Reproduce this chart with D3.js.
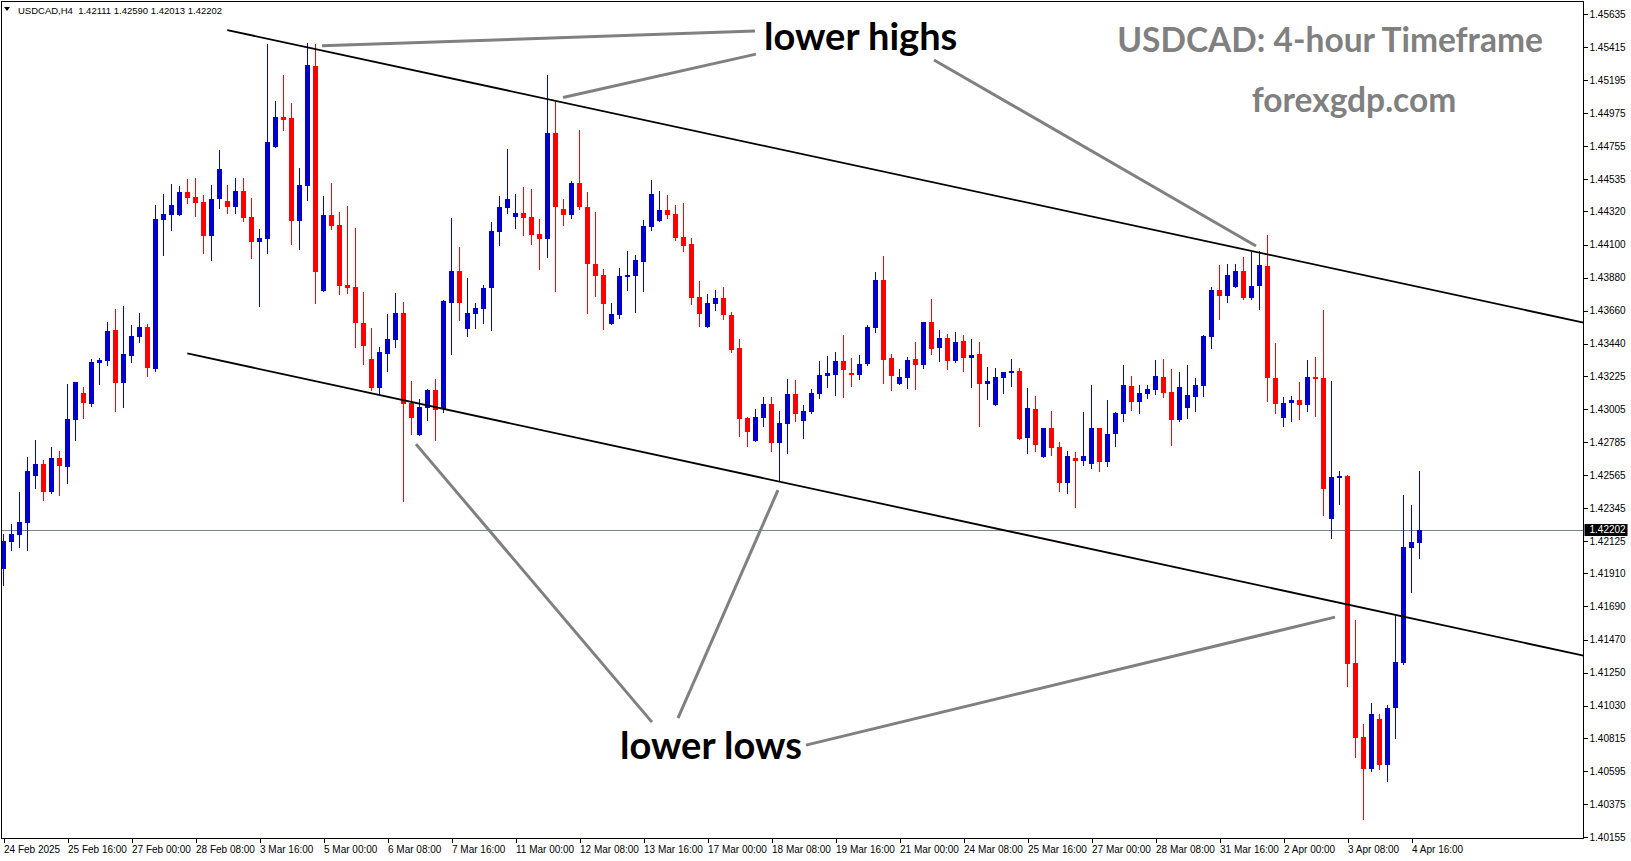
<!DOCTYPE html>
<html><head><meta charset="utf-8">
<script src="https://cdn.jsdelivr.net/npm/d3@7"></script>
<style>
html,body{margin:0;padding:0;background:#fff;overflow:hidden}
svg{display:block}
</style></head><body>
<svg id="chart" width="1631" height="861"></svg>
<script>
// ---------- DATA (USDCAD H4, bar index 0 = 24 Feb 2025 08:00) ----------
const open = [
1.41942,1.42121,1.42166,1.42247,1.42560,1.42638,1.42452,1.42678,1.42620,1.42933,
1.43111,1.43038,1.43313,1.43324,1.43531,1.43180,1.43360,1.43484,1.43551,1.43271,
1.44263,1.44297,1.44297,1.44450,1.44416,1.44383,1.44157,1.44403,1.44390,1.44350,
1.44456,1.44283,1.44117,1.44137,1.44749,1.44949,1.44942,1.44257,1.44489,1.45289,
1.43790,1.44297,1.44230,1.43830,1.43817,1.43577,1.43338,1.43144,1.43371,1.43464,
1.43644,1.43044,1.42831,1.43011,1.43131,1.43004,1.43713,1.43926,1.43539,1.43637,
1.43670,1.43810,1.44183,1.44343,1.44283,1.44310,1.44283,1.44170,1.44137,1.44842,
1.44336,1.44297,1.44509,1.44350,1.43971,1.43897,1.43571,1.43631,1.43884,1.43890,
1.43984,1.44217,1.44257,1.44330,1.44303,1.44150,1.44103,1.43751,1.43551,1.43704,
1.43744,1.43631,1.43411,1.42945,1.42791,1.42945,1.43038,1.42778,1.42905,1.43104,
1.42925,1.42984,1.43104,1.43224,1.43231,1.43324,1.43244,1.43231,1.43304,1.43544,
1.43864,1.43344,1.43171,1.43211,1.43338,1.43298,1.43584,1.43411,1.43477,1.43324,
1.43457,1.43344,1.43371,1.43171,1.43031,1.43211,1.43244,1.43258,1.42811,1.43004,
1.42685,1.42878,1.42751,1.42512,1.42678,1.42658,1.42638,1.42878,1.42651,1.42838,
1.42971,1.43158,1.43051,1.43104,1.43131,1.43217,1.43118,1.42931,1.43011,1.43084,
1.43158,1.43484,1.43797,1.43760,1.43819,1.43924,1.43747,1.43824,1.43957,1.43208,
1.42948,1.43048,1.43068,1.43032,1.43215,1.43210,1.42275,1.42547,1.42557,1.41314,
1.40820,1.40607,1.40942,1.40636,1.41014,1.41314,1.42082,1.42111];
const high = [
1.42172,1.42239,1.42452,1.42685,1.42798,1.42665,1.42751,1.42725,1.43171,1.43184,
1.43151,1.43338,1.43344,1.43584,1.43670,1.43690,1.43564,1.43644,1.43571,1.44363,
1.44436,1.44503,1.44489,1.44536,1.44543,1.44430,1.44496,1.44729,1.44496,1.44543,
1.44543,1.44410,1.44203,1.45435,1.45055,1.45229,1.45042,1.44609,1.45442,1.45435,
1.44423,1.44509,1.44316,1.44356,1.44210,1.43784,1.43544,1.43418,1.43637,1.43777,
1.43717,1.43191,1.43071,1.43137,1.43204,1.43731,1.44277,1.44083,1.43877,1.43711,
1.43830,1.44250,1.44423,1.44736,1.44436,1.44483,1.44470,1.44270,1.45229,1.45062,
1.44403,1.44523,1.44862,1.44450,1.44316,1.43937,1.43711,1.43944,1.44057,1.44030,
1.44263,1.44529,1.44456,1.44430,1.44363,1.44376,1.44143,1.43857,1.43770,1.43797,
1.43817,1.43651,1.43471,1.42951,1.43004,1.43084,1.43084,1.42991,1.43204,1.43198,
1.43031,1.43137,1.43324,1.43358,1.43384,1.43498,1.43344,1.43364,1.43564,1.43917,
1.44023,1.43371,1.43271,1.43351,1.43451,1.43584,1.43737,1.43531,1.43504,1.43517,
1.43498,1.43471,1.43451,1.43284,1.43278,1.43251,1.43338,1.43278,1.43144,1.43091,
1.42878,1.42991,1.42785,1.42725,1.42718,1.42984,1.43164,1.42878,1.43064,1.42984,
1.43298,1.43224,1.43164,1.43164,1.43331,1.43338,1.43271,1.43251,1.43298,1.43211,
1.43498,1.43817,1.43964,1.43971,1.43971,1.44017,1.44050,1.44055,1.44163,1.43444,
1.43084,1.43092,1.43184,1.43331,1.43351,1.43665,1.43191,1.42592,1.42565,1.41600,
1.40908,1.41047,1.40975,1.41032,1.41627,1.42432,1.42365,1.42590];
const low = [
1.41833,1.42066,1.42088,1.42066,1.42480,1.42401,1.42447,1.42434,1.42514,1.42800,
1.42946,1.43026,1.43171,1.43298,1.42993,1.43018,1.43319,1.43451,1.43224,1.43258,
1.44030,1.44196,1.44297,1.44376,1.44290,1.44043,1.43997,1.44343,1.44310,1.44310,
1.44257,1.44010,1.43690,1.44043,1.44749,1.44862,1.44103,1.44070,1.44396,1.43711,
1.43790,1.44203,1.43770,1.43777,1.43418,1.43304,1.43131,1.43104,1.43258,1.43418,
1.42392,1.42838,1.42831,1.42931,1.42798,1.42986,1.43371,1.43597,1.43491,1.43544,
1.43577,1.43531,1.44097,1.44310,1.44210,1.44163,1.44103,1.43937,1.44017,1.43790,
1.44230,1.44277,1.44336,1.43644,1.43757,1.43537,1.43571,1.43611,1.43797,1.43651,
1.43790,1.44196,1.44257,1.44277,1.44130,1.44057,1.43704,1.43557,1.43551,1.43664,
1.43604,1.43384,1.42825,1.42758,1.42791,1.42891,1.42725,1.42525,1.42711,1.42925,
1.42811,1.42978,1.43078,1.43151,1.43098,1.43084,1.43158,1.43204,1.43298,1.43517,
1.43178,1.43131,1.43171,1.43144,1.43137,1.43278,1.43371,1.43324,1.43271,1.43318,
1.43258,1.43151,1.42891,1.43071,1.43031,1.43111,1.43158,1.42805,1.42711,1.42725,
1.42685,1.42698,1.42459,1.42445,1.42352,1.42631,1.42611,1.42592,1.42625,1.42758,
1.42925,1.42998,1.42978,1.43078,1.43104,1.43084,1.42765,1.42925,1.42945,1.42991,
1.43091,1.43411,1.43605,1.43718,1.43819,1.43734,1.43739,1.43672,1.43058,1.42978,
1.42894,1.42927,1.42935,1.42994,1.42960,1.42301,1.42149,1.42375,1.41163,1.40690,
1.40274,1.40597,1.40610,1.40530,1.40813,1.41308,1.41789,1.42013];
const close = [
1.42125,1.42172,1.42252,1.42592,1.42638,1.42454,1.42678,1.42627,1.42938,1.43184,
1.43046,1.43318,1.43331,1.43524,1.43180,1.43371,1.43491,1.43551,1.43280,1.44270,
1.44303,1.44363,1.44450,1.44410,1.44376,1.44157,1.44403,1.44603,1.44350,1.44456,
1.44277,1.44117,1.44143,1.44782,1.44949,1.44929,1.44257,1.44496,1.45295,1.43917,
1.44297,1.44223,1.43824,1.43810,1.43577,1.43424,1.43144,1.43384,1.43471,1.43644,
1.43038,1.42945,1.43018,1.43131,1.42998,1.43724,1.43926,1.43713,1.43644,1.43677,
1.43810,1.44190,1.44350,1.44403,1.44310,1.44277,1.44163,1.44137,1.44842,1.44350,
1.44297,1.44509,1.44350,1.43971,1.43890,1.43704,1.43637,1.43890,1.43897,1.43997,
1.44223,1.44436,1.44330,1.44297,1.44143,1.44090,1.43744,1.43637,1.43711,1.43744,
1.43631,1.43398,1.42938,1.42851,1.42951,1.43038,1.42778,1.42911,1.43104,1.42971,
1.42991,1.43111,1.43231,1.43244,1.43324,1.43264,1.43231,1.43304,1.43551,1.43864,
1.43331,1.43224,1.43217,1.43331,1.43298,1.43584,1.43404,1.43477,1.43324,1.43451,
1.43344,1.43364,1.43171,1.43191,1.43217,1.43251,1.43258,1.42805,1.43011,1.42765,
1.42878,1.42745,1.42512,1.42691,1.42658,1.42691,1.42878,1.42651,1.42838,1.42978,
1.43164,1.43051,1.43111,1.43137,1.43224,1.43111,1.42931,1.43151,1.43098,1.43164,
1.43491,1.43797,1.43760,1.43895,1.43924,1.43747,1.43824,1.43963,1.43208,1.43040,
1.43048,1.43068,1.43032,1.43217,1.43205,1.42475,1.42552,1.42557,1.41308,1.40813,
1.40605,1.40975,1.40636,1.41014,1.41319,1.42085,1.42118,1.42202];

const xTickLabels = ["24 Feb 2025","25 Feb 16:00","27 Feb 00:00","28 Feb 08:00","3 Mar 16:00",
  "5 Mar 00:00","6 Mar 08:00","7 Mar 16:00","11 Mar 00:00","12 Mar 08:00","13 Mar 16:00",
  "17 Mar 00:00","18 Mar 08:00","19 Mar 16:00","21 Mar 00:00","24 Mar 08:00","25 Mar 16:00",
  "27 Mar 00:00","28 Mar 08:00","31 Mar 16:00","2 Apr 00:00","3 Apr 08:00","4 Apr 16:00"];
const xTickBars = [0,8,16,24,32,40,48,56,64,72,80,88,96,104,112,120,128,136,144,152,160,168,176];
const yTickValues = [1.45635,1.45415,1.45195,1.44975,1.44755,1.44535,1.44320,1.44100,1.43880,
  1.43660,1.43440,1.43225,1.43005,1.42785,1.42565,1.42345,1.42125,1.41910,1.41690,1.41470,
  1.41250,1.41030,1.40815,1.40595,1.40375,1.40155];
const lastPrice = 1.42202;
const headerText = "USDCAD,H4  1.42111 1.42590 1.42013 1.42202";

// channel trend lines: [bar, price] anchors (extended to the right edge)
const channelUpper = [[27.98, 1.45528], [178.31, 1.43801]];
const channelLower = [[22.98, 1.43375], [178.31, 1.41584]];
// annotation pointer lines: [bar, price] -> [bar, price]
const pointerLines = [
  [[39.81, 1.45423], [93.94, 1.45522]],
  [[69.94, 1.45079], [94.06, 1.45368]],
  [[116.31, 1.45329], [156.56, 1.44090]],
  [[51.56, 1.42771], [81.06, 1.40920]],
  [[96.81, 1.42465], [84.31, 1.40947]],
  [[100.31, 1.40767], [166.44, 1.41619]]
];
const annotations = [
  {text: "lower highs", x: 764, y: 50, size: 38, color: "#000", anchor: "start"},
  {text: "lower lows", x: 620, y: 759, size: 38, color: "#000", anchor: "start"},
  {text: "USDCAD: 4-hour Timeframe", x: 1330, y: 52, size: 33.5, color: "#808080", anchor: "middle"},
  {text: "forexgdp.com", x: 1354, y: 112, size: 33.5, color: "#808080", anchor: "middle"}
];

// ---------- LAYOUT ----------
const W = 1631, H = 861;
const plot = {left: 1.5, top: 1.5, right: 1583.5, bottom: 838.5};
const BULL = "#0000CD", BEAR = "#FF0000";
const axisFont = "'Liberation Sans', Arial, sans-serif";

const svg = d3.select("#chart");
svg.append("rect").attr("width", W).attr("height", H).attr("fill", "#fff");

const x = d3.scaleLinear().domain([0, 177]).range([3.5, 3.5 + 8 * 177]);
const y = d3.scaleLinear().domain([1.40155, 1.45635]).range([837, 14]);

svg.append("defs").append("clipPath").attr("id", "plotClip")
  .append("rect").attr("x", plot.left).attr("y", plot.top)
  .attr("width", plot.right - plot.left).attr("height", plot.bottom - plot.top);

const layer = svg.append("g").attr("clip-path", "url(#plotClip)");

// current price line
layer.append("line")
  .attr("x1", plot.left).attr("x2", plot.right)
  .attr("y1", Math.round(y(lastPrice)) + 0.5).attr("y2", Math.round(y(lastPrice)) + 0.5)
  .attr("stroke", "#7a8594").attr("stroke-width", 1);

// candles
const bars = d3.range(open.length);
const col = i => close[i] >= open[i] ? BULL : BEAR;
layer.append("g").selectAll("line").data(bars).join("line")
  .attr("x1", i => x(i)).attr("x2", i => x(i))
  .attr("y1", i => Math.round(y(high[i]))).attr("y2", i => Math.round(y(low[i])) + 1)
  .attr("stroke", col).attr("stroke-width", 1).attr("shape-rendering", "crispEdges");
layer.append("g").selectAll("rect").data(bars).join("rect")
  .attr("x", i => x(i) - 2.5).attr("width", 5)
  .attr("y", i => Math.round(y(Math.max(open[i], close[i]))))
  .attr("height", i => Math.max(1, Math.round(y(Math.min(open[i], close[i]))) - Math.round(y(Math.max(open[i], close[i])))))
  .attr("fill", col).attr("shape-rendering", "crispEdges");

// channel lines (rays to the right edge)
function ray(pts) {
  const [[b0, p0], [b1, p1]] = pts;
  const bEnd = x.invert(plot.right);
  const pEnd = p0 + (p1 - p0) * (bEnd - b0) / (b1 - b0);
  return [[x(b0), y(p0)], [x(bEnd), y(pEnd)]];
}
[channelUpper, channelLower].forEach(pts => {
  layer.append("path").attr("d", d3.line()(ray(pts)))
    .attr("stroke", "#000").attr("stroke-width", 1.8).attr("fill", "none");
});

// pointer lines
layer.append("g").selectAll("path").data(pointerLines).join("path")
  .attr("d", d => d3.line()(d.map(([b, p]) => [x(b), y(p)])))
  .attr("stroke", "#808080").attr("stroke-width", 3).attr("fill", "none");

// annotation texts
layer.append("g").selectAll("text").data(annotations).join("text")
  .attr("x", d => d.x).attr("y", d => d.y)
  .attr("text-anchor", d => d.anchor)
  .attr("font-family", "Lato, 'Open Sans', sans-serif").attr("font-weight", 700)
  .attr("font-size", d => d.size).attr("fill", d => d.color)
  .text(d => d.text);

// frame
svg.append("rect").attr("x", plot.left).attr("y", plot.top)
  .attr("width", plot.right - plot.left).attr("height", plot.bottom - plot.top)
  .attr("fill", "none").attr("stroke", "#000").attr("stroke-width", 1)
  .attr("shape-rendering", "crispEdges");

// y axis
const yAxis = svg.append("g").attr("transform", `translate(${plot.right},0)`)
  .call(d3.axisRight(y).tickValues(yTickValues).tickSize(4).tickPadding(2)
    .tickFormat(d3.format(".5f")));
yAxis.select(".domain").remove();
yAxis.selectAll("line").attr("stroke", "#000").attr("shape-rendering", "crispEdges");
yAxis.selectAll("text").attr("font-family", axisFont).attr("font-size", 10).attr("fill", "#000");

// current price label
const py = y(lastPrice);
svg.append("rect").attr("x", plot.right + 1).attr("y", Math.round(py) - 6)
  .attr("width", 43).attr("height", 12).attr("fill", "#000");
svg.append("text").attr("x", plot.right + 6).attr("y", py).attr("dy", "0.35em")
  .attr("font-family", axisFont).attr("font-size", 10).attr("fill", "#fff")
  .text(d3.format(".5f")(lastPrice));

// x axis
const xAxis = svg.append("g").attr("transform", `translate(0,${plot.bottom})`)
  .call(d3.axisBottom(x).tickValues(xTickBars).tickSize(4).tickPadding(3)
    .tickFormat((d, i) => xTickLabels[i]));
xAxis.select(".domain").remove();
xAxis.selectAll("line").attr("stroke", "#000").attr("shape-rendering", "crispEdges");
xAxis.selectAll("text").attr("text-anchor", "start").attr("dx", 0)
  .attr("font-family", axisFont).attr("font-size", 10).attr("fill", "#000");

// header
svg.append("path").attr("d", "M4,7L10,7L7,11Z").attr("fill", "#000");
svg.append("text").attr("x", 18).attr("y", 14)
  .attr("font-family", axisFont).attr("font-size", 9.5).attr("fill", "#000")
  .attr("xml:space", "preserve").style("white-space", "pre")
  .text(headerText);
</script>
</body></html>
